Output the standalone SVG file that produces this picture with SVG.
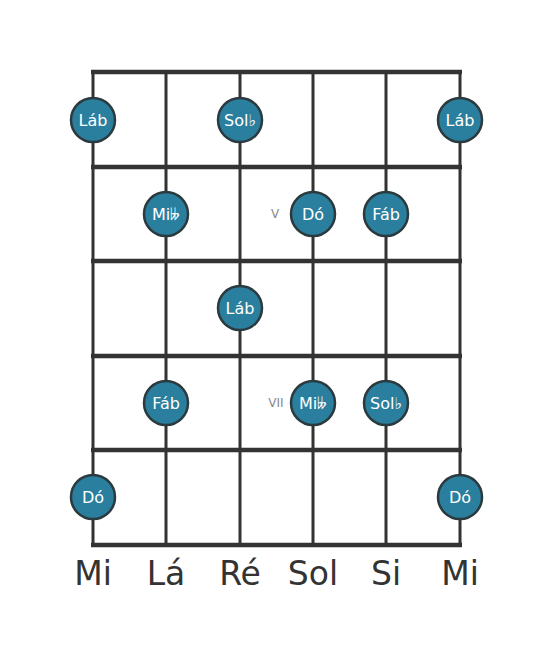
<svg xmlns="http://www.w3.org/2000/svg" width="553" height="656" viewBox="0 0 553 656">
<style>
.str{stroke:#333;stroke-width:3}
.fret{stroke:#333;stroke-width:4.5}
.note circle{fill:#2a7f9e;stroke:#2b3a3f;stroke-width:2.5}
.note text{fill:#fff;font-family:"DejaVu Sans",sans-serif;font-size:16px;text-anchor:middle;dominant-baseline:central}
.pos{fill:#888;font-family:"DejaVu Sans",sans-serif;font-size:12px;text-anchor:middle;dominant-baseline:central}
.lbl{fill:#333;font-family:"DejaVu Sans",sans-serif;font-size:33px;text-anchor:middle}
</style>
<rect width="553" height="656" fill="#fff"/>
<g id="connectors">
<line class="str" x1="93" y1="72" x2="93" y2="545"/>
<line class="str" x1="166" y1="72" x2="166" y2="545"/>
<line class="str" x1="240" y1="72" x2="240" y2="545"/>
<line class="str" x1="313" y1="72" x2="313" y2="545"/>
<line class="str" x1="386" y1="72" x2="386" y2="545"/>
<line class="str" x1="460" y1="72" x2="460" y2="545"/>
<line class="fret" x1="91" y1="72" x2="462" y2="72"/>
<line class="fret" x1="91" y1="167" x2="462" y2="167"/>
<line class="fret" x1="91" y1="261" x2="462" y2="261"/>
<line class="fret" x1="91" y1="356" x2="462" y2="356"/>
<line class="fret" x1="91" y1="450" x2="462" y2="450"/>
<line class="fret" x1="91" y1="545" x2="462" y2="545"/>
</g>
<text class="pos" x="275" y="214">V</text>
<text class="pos" x="276" y="403">VII</text>
<g id="n1" class="note"><circle cx="93" cy="120" r="22"/><text x="93" y="120">Láb</text></g>
<g id="n2" class="note"><circle cx="240" cy="120" r="22"/><text x="240" y="120">Sol♭</text></g>
<g id="n3" class="note"><circle cx="460" cy="120" r="22"/><text x="460" y="120">Láb</text></g>
<g id="n4" class="note"><circle cx="166" cy="214" r="22"/><text x="166" y="214">Mi𝄫</text></g>
<g id="n5" class="note"><circle cx="313" cy="214" r="22"/><text x="313" y="214">Dó</text></g>
<g id="n6" class="note"><circle cx="386" cy="214" r="22"/><text x="386" y="214">Fáb</text></g>
<g id="n7" class="note"><circle cx="240" cy="308" r="22"/><text x="240" y="308">Láb</text></g>
<g id="n8" class="note"><circle cx="166" cy="403" r="22"/><text x="166" y="403">Fáb</text></g>
<g id="n9" class="note"><circle cx="313" cy="403" r="22"/><text x="313" y="403">Mi𝄫</text></g>
<g id="n10" class="note"><circle cx="386" cy="403" r="22"/><text x="386" y="403">Sol♭</text></g>
<g id="n11" class="note"><circle cx="93" cy="497" r="22"/><text x="93" y="497">Dó</text></g>
<g id="n12" class="note"><circle cx="460" cy="497" r="22"/><text x="460" y="497">Dó</text></g>
<g id="labels">
<text class="lbl" x="93" y="585">Mi</text>
<text class="lbl" x="166" y="585">Lá</text>
<text class="lbl" x="240" y="585">Ré</text>
<text class="lbl" x="313" y="585">Sol</text>
<text class="lbl" x="386" y="585">Si</text>
<text class="lbl" x="460" y="585">Mi</text>
</g>
</svg>
